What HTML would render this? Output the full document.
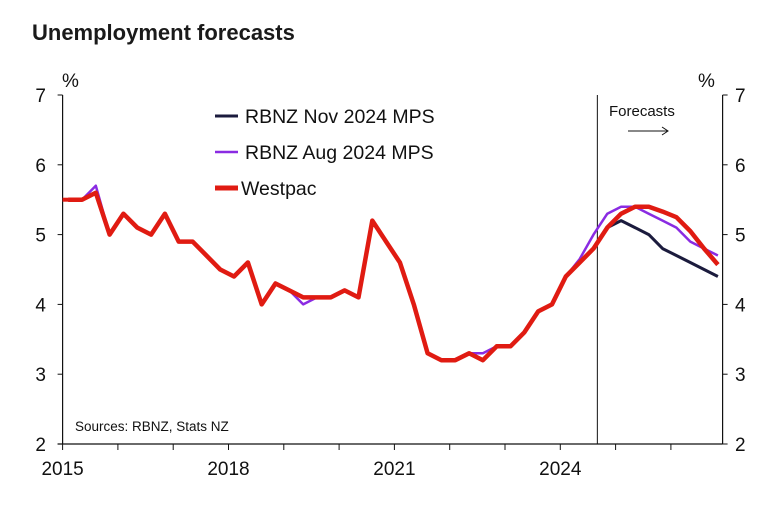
<!DOCTYPE html>
<html><head><meta charset="utf-8"><style>
body{margin:0;background:#fff;width:769px;height:515px;overflow:hidden}
svg{font-family:"Liberation Sans",Arial,sans-serif}
</style></head><body>
<svg id="chart" width="769" height="515">
<text x="32" y="40" font-size="22" font-weight="bold" fill="#1a1a1a">Unemployment forecasts</text>
<g id="axes"></g>
<g id="series"></g>
<g id="legend">
<line x1="215" y1="116" x2="238" y2="116" stroke="#1b1b3d" stroke-width="3"/>
<text x="245" y="123" font-size="19.5" fill="#111">RBNZ Nov 2024 MPS</text>
<line x1="215" y1="152" x2="238" y2="152" stroke="#8a2be2" stroke-width="2.5"/>
<text x="245" y="159" font-size="19.5" fill="#111">RBNZ Aug 2024 MPS</text>
<line x1="215" y1="188" x2="238" y2="188" stroke="#e01b12" stroke-width="5"/>
<text x="241" y="195" font-size="19.5" fill="#111">Westpac</text>
</g>
<text x="609" y="116" font-size="15" fill="#111">Forecasts</text>
<g><line x1="628" y1="131" x2="667" y2="131" stroke="#111" stroke-width="1"/><path d="M662,127 L668,131 L662,135" fill="none" stroke="#111" stroke-width="1"/></g>
<text x="75" y="431" font-size="13.5" fill="#111">Sources: RBNZ, Stats NZ</text>
</svg>
<script>
const startYear = 2015.1;
const westpac = [5.5,5.5,5.6,5.0,5.3,5.1,5.0,5.3,4.9,4.9,4.7,4.5,4.4,4.6,4.0,4.3,4.2,4.1,4.1,4.1,4.2,4.1,5.2,4.9,4.6,4.0,3.3,3.2,3.2,3.3,3.2,3.4,3.4,3.6,3.9,4.0,4.4,4.6,4.8,5.1,5.3,5.4,5.4,5.33,5.25,5.05,4.8,4.57];
const rbnzNov = [5.5,5.5,5.6,5.0,5.3,5.1,5.0,5.3,4.9,4.9,4.7,4.5,4.4,4.6,4.0,4.3,4.2,4.1,4.1,4.1,4.2,4.1,5.2,4.9,4.6,4.0,3.3,3.2,3.2,3.3,3.2,3.4,3.4,3.6,3.9,4.0,4.4,4.6,4.8,5.1,5.2,5.1,5.0,4.8,4.7,4.6,4.5,4.4];
const rbnzAug = [5.5,5.5,5.7,5.0,5.3,5.1,5.0,5.3,4.9,4.9,4.7,4.5,4.4,4.6,4.0,4.3,4.2,4.0,4.1,4.1,4.2,4.1,5.2,4.9,4.6,4.0,3.3,3.2,3.2,3.3,3.3,3.4,3.4,3.6,3.9,4.0,4.4,4.65,5.0,5.3,5.4,5.4,5.3,5.2,5.1,4.9,4.8,4.7];
const yTicks = [2,3,4,5,6,7];
const xLabels = [2015,2018,2021,2024];
const forecastStart = 2024.67;

const NS="http://www.w3.org/2000/svg";
const X0=62.6, PX_PER_YEAR=55.3, Y0=444, PX_PER_UNIT=69.8, XR=722.6;
const xs = t => X0 + (t-2015)*PX_PER_YEAR;
const ys = v => Y0 - (v-2)*PX_PER_UNIT;
function mk(tag, attrs, parent){const e=document.createElementNS(NS,tag);for(const k in attrs)e.setAttribute(k,attrs[k]);parent.appendChild(e);return e;}
const axes=document.getElementById('axes'), ser=document.getElementById('series');

let e;
e=mk('line',{x1:X0,y1:ys(7),x2:X0,y2:Y0,stroke:'#111','stroke-width':1.2},axes);


e=mk('line',{x1:XR,y1:ys(7),x2:XR,y2:Y0,stroke:'#111','stroke-width':1.2},axes);


e=mk('line',{x1:X0-5,y1:Y0,x2:XR,y2:Y0,stroke:'#111','stroke-width':1.2},axes);


yTicks.forEach(v=>{
  mk('line',{x1:X0-5,y1:ys(v),x2:X0,y2:ys(v),stroke:'#111'},axes);
  mk('line',{x1:XR,y1:ys(v),x2:XR+5,y2:ys(v),stroke:'#111'},axes);
  e=mk('text',{x:46,y:ys(v)+7,'font-size':19,'text-anchor':'end',fill:'#111'},axes);
  e.textContent=v;
  
  
  e=mk('text',{x:735,y:ys(v)+7,'font-size':19,fill:'#111'},axes);
  e.textContent=v;
  
  
});
for(let yr=2015; yr<=2026; yr++){ mk('line',{x1:xs(yr),y1:Y0,x2:xs(yr),y2:Y0+6,stroke:'#111'},axes); }
xLabels.forEach(yr=>{
  e=mk('text',{x:xs(yr),y:475,'font-size':19,'text-anchor':'middle',fill:'#111'},axes);
  e.textContent=yr;
  
  
});
e=mk('text',{x:62,y:87,'font-size':19,fill:'#111'},axes); e.textContent='%';


e=mk('text',{x:698,y:87,'font-size':19,fill:'#111'},axes); e.textContent='%';


e=mk('line',{x1:xs(forecastStart),y1:ys(7),x2:xs(forecastStart),y2:Y0,stroke:'#111','stroke-width':1},axes);



function draw(vals,color,w,name){
  const pts=vals.map((v,i)=>xs(startYear+0.25*i).toFixed(1)+','+ys(v).toFixed(1)).join(' ');
  const p=mk('polyline',{points:pts,fill:'none',stroke:color,'stroke-width':w,'stroke-linejoin':'round'},ser);
  
  
}
mk('line',{x1:X0,y1:ys(westpac[0]),x2:xs(startYear),y2:ys(westpac[0]),stroke:'#e01b12','stroke-width':4},ser);
draw(rbnzNov,'#1b1b3d',3,'series-rbnz-nov');
draw(rbnzAug,'#8a2be2',2.5,'series-rbnz-aug');
draw(westpac,'#e01b12',4.5,'series-westpac');
</script>
</body></html>
